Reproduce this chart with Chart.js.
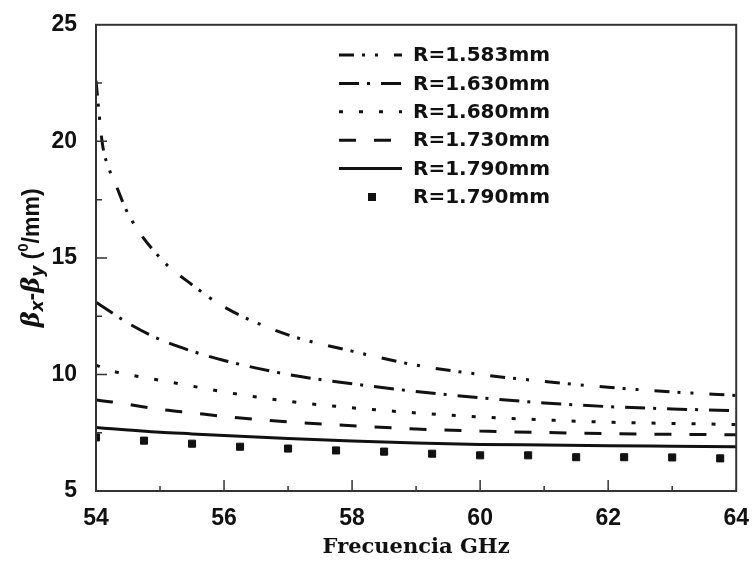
<!DOCTYPE html>
<html>
<head>
<meta charset="utf-8">
<script src="https://cdn.jsdelivr.net/npm/chart.js@4/dist/chart.umd.min.js"></script>
<style>
  html, body { margin: 0; padding: 0; background: #fff; }
</style>
</head>
<body>
<canvas id="betaChart" width="755" height="566"></canvas>
<script>
// frequencies (GHz)
const freqSteep = [54, 54.1, 54.2, 54.3, 54.5, 55, 55.5, 56, 57, 58, 59, 60, 61, 62, 63, 64];
const freq = [54, 54.25, 54.5, 55, 55.5, 56, 57, 58, 59, 60, 61, 62, 63, 64];
const freqMeas = [54, 54.75, 55.5, 56.25, 57, 57.75, 58.5, 59.25, 60, 60.75, 61.5, 62.25, 63, 63.75];

// beta_x - beta_y (deg/mm)
const r1583 = [22.6, 19.9, 18.85, 18.2, 16.9, 15.0, 13.85, 12.9, 11.7, 11.0, 10.4, 10.0, 9.7, 9.45, 9.25, 9.1];
const r1630 = [13.1, 12.65, 12.2, 11.5, 11.0, 10.6, 10.0, 9.6, 9.27, 9.0, 8.78, 8.62, 8.52, 8.45];
const r1680 = [10.4, 10.15, 10.0, 9.75, 9.5, 9.25, 8.85, 8.57, 8.35, 8.18, 8.05, 7.95, 7.9, 7.85];
const r1730 = [8.9, 8.82, 8.72, 8.5, 8.35, 8.2, 7.97, 7.8, 7.66, 7.57, 7.51, 7.46, 7.43, 7.41];
const r1790 = [7.72, 7.67, 7.62, 7.52, 7.45, 7.38, 7.25, 7.14, 7.06, 7.0, 6.97, 6.94, 6.92, 6.9];
const r1790meas = [7.3, 7.16, 7.03, 6.9, 6.82, 6.74, 6.69, 6.6, 6.53, 6.53, 6.45, 6.45, 6.44, 6.4];

const labels = ['R=1.583mm', 'R=1.630mm', 'R=1.680mm', 'R=1.730mm', 'R=1.790mm', 'R=1.790mm'];
const xTicks = [54, 56, 58, 60, 62, 64];
const yTicks = [5, 10, 15, 20, 25];

const ink = '#111';
const toXY = (xs, ys) => xs.map((x, i) => ({ x: x, y: ys[i] }));

function lineSet(label, xs, ys, dash) {
  return {
    label: label,
    data: toXY(xs, ys),
    borderColor: ink,
    backgroundColor: ink,
    borderWidth: 3,
    borderDash: dash,
    pointRadius: 0,
    cubicInterpolationMode: 'monotone',
    fill: false
  };
}

// ticks pointing inward + frame + legend + y title
const decorPlugin = {
  id: 'decor',
  afterDraw(chart) {
    const ctx = chart.ctx;
    const a = chart.chartArea;
    const xs = chart.scales.x, ys = chart.scales.y;
    ctx.save();
    ctx.strokeStyle = '#333';
    ctx.lineWidth = 2;
    ctx.strokeRect(a.left, a.top, a.right - a.left, a.bottom - a.top);

    ctx.lineWidth = 1.5;
    ctx.beginPath();
    for (let v = 55; v < 64; v++) {
      const px = xs.getPixelForValue(v);
      const len = v % 2 === 0 ? 11 : 5;
      ctx.moveTo(px, a.bottom);
      ctx.lineTo(px, a.bottom - len);
    }
    for (let v = 7.5; v < 25; v += 2.5) {
      const py = ys.getPixelForValue(v);
      const len = v % 5 === 0 ? 11 : 6;
      ctx.moveTo(a.left, py);
      ctx.lineTo(a.left + len, py);
    }
    ctx.stroke();

    // legend
    ctx.font = 'bold 20px "DejaVu Sans"';
    ctx.textBaseline = 'middle';
    ctx.fillStyle = ink;
    chart.data.datasets.forEach((ds, i) => {
      const y = 55 + i * 28.4;
      if (ds.showLine === false) {
        ctx.fillRect(368, y - 4, 8, 8);
      } else {
        ctx.strokeStyle = ink;
        ctx.lineWidth = 3;
        ctx.setLineDash(ds.borderDash || []);
        ctx.beginPath();
        ctx.moveTo(339, y);
        ctx.lineTo(402, y);
        ctx.stroke();
        ctx.setLineDash([]);
      }
      ctx.fillText(ds.label, 413, y + 1);
    });

    // y axis title with subscripts
    const parts = [
      { t: 'β', f: 'italic bold 24px "DejaVu Serif"', dy: 0 },
      { t: 'x', f: 'italic bold 17px "DejaVu Sans"', dy: 6 },
      { t: '-', f: 'bold 23px "Liberation Sans"', dy: 0 },
      { t: 'β', f: 'italic bold 24px "DejaVu Serif"', dy: 0 },
      { t: 'y', f: 'italic bold 17px "DejaVu Sans"', dy: 6 },
      { t: ' (', f: 'bold 23px "Liberation Sans"', dy: 0 },
      { t: '0', f: 'bold 15px "Liberation Sans"', dy: -9 },
      { t: '/mm)', f: 'bold 23px "Liberation Sans"', dy: 0 }
    ];
    let total = 0;
    parts.forEach(p => { ctx.font = p.f; p.w = ctx.measureText(p.t).width; total += p.w; });
    ctx.translate(33, (a.top + a.bottom) / 2);
    ctx.rotate(-Math.PI / 2);
    ctx.textAlign = 'left';
    let cx = -total / 2;
    parts.forEach(p => {
      ctx.font = p.f;
      ctx.fillText(p.t, cx, p.dy);
      cx += p.w;
    });
    ctx.restore();
  }
};

new Chart(document.getElementById('betaChart'), {
  type: 'line',
  data: {
    datasets: [
      lineSet(labels[0], freqSteep, r1583, [15, 8, 3, 10, 3, 16]),
      lineSet(labels[1], freq, r1630, [20, 8, 3, 11]),
      lineSet(labels[2], freq, r1680, [4, 16]),
      lineSet(labels[3], freq, r1730, [17, 18]),
      lineSet(labels[4], freq, r1790, []),
      {
        label: labels[5],
        data: toXY(freqMeas, r1790meas),
        showLine: false,
        pointStyle: 'rect',
        pointRadius: 5,
        pointBorderWidth: 1,
        pointBackgroundColor: ink,
        pointBorderColor: ink,
        clip: 0
      }
    ]
  },
  plugins: [decorPlugin],
  options: {
    responsive: false,
    animation: false,
    layout: { padding: { top: 19, right: 12, left: 0, bottom: 0 } },
    plugins: {
      legend: { display: false },
      tooltip: { enabled: false }
    },
    scales: {
      x: {
        type: 'linear',
        min: 54,
        max: 64,
        afterFit: s => { s.height = 75; },
        afterBuildTicks: s => { s.ticks = xTicks.map(v => ({ value: v })); },
        grid: { display: false },
        border: { display: false },
        ticks: {
          color: ink,
          padding: 6,
          maxRotation: 0,
          font: { family: '"Liberation Sans"', size: 23, weight: 'bold' }
        },
        title: {
          display: true,
          text: 'Frecuencia GHz',
          color: ink,
          padding: { top: 0, bottom: 6 },
          font: { family: '"DejaVu Serif"', size: 21, weight: 'bold' }
        }
      },
      y: {
        min: 5,
        max: 25,
        afterFit: s => { s.width = 96; },
        afterBuildTicks: s => { s.ticks = yTicks.map(v => ({ value: v })); },
        grid: { display: false },
        border: { display: false },
        ticks: {
          color: ink,
          padding: 11,
          font: { family: '"Liberation Sans"', size: 23, weight: 'bold' }
        }
      }
    }
  }
});
</script>
</body>
</html>
